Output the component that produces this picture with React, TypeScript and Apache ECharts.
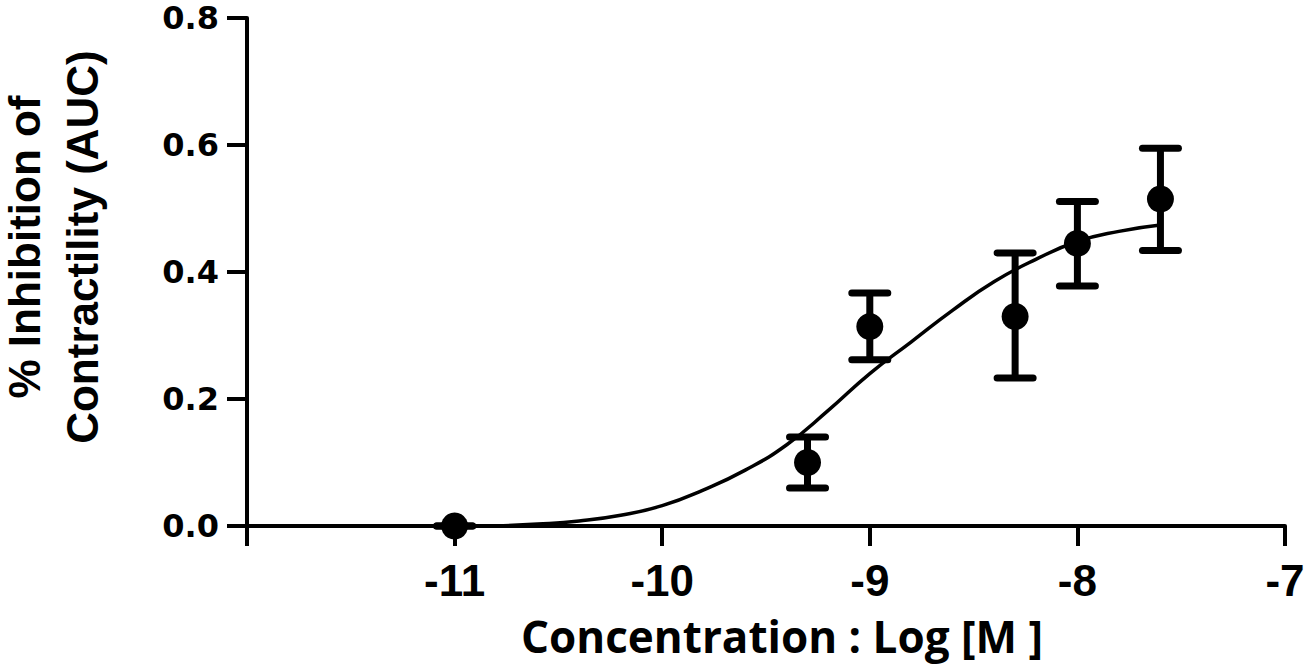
import React, { useEffect, useRef } from "react";
import * as echarts from "echarts";

// Observed points: log concentration, mean, SEM bounds
const logConc = [-11, -9.3, -9.0, -8.3, -8.0, -7.6];
const meanInhibition = [0.0, 0.1, 0.314, 0.33, 0.445, 0.515];
const errLow = [0.0, 0.06, 0.262, 0.233, 0.378, 0.434];
const errHigh = [0.0, 0.14, 0.367, 0.43, 0.511, 0.595];

// Fitted curve
const curveX = [-10.8, -10.6, -10.4, -10.2, -10.0, -9.8, -9.6, -9.4, -9.2, -9.0, -8.8, -8.6, -8.4, -8.2, -8.0, -7.8, -7.6];
const curveY = [0.0, 0.003, 0.008, 0.017, 0.032, 0.057, 0.088, 0.128, 0.182, 0.24, 0.29, 0.34, 0.385, 0.42, 0.448, 0.464, 0.474];

const yTicks = [0, 0.2, 0.4, 0.6, 0.8];
const xTickLabels = ["-11", "-10", "-9", "-8", "-7"];

const yTitleLines = ["% Inhibition of", "Contractility (AUC)"];
const xTitle = "Concentration : Log [M ]";

export default function App() {
  const ref = useRef<HTMLDivElement>(null);

  useEffect(() => {
    document.body.style.margin = "0";
    if (!ref.current) return;
    const chart = echarts.init(ref.current, null, { renderer: "svg" });

    const points = logConc.map((x, i) => [x, meanInhibition[i]]);
    const errs = logConc.map((x, i) => [x, errLow[i], errHigh[i]]);
    const curve = curveX.map((x, i) => [x, curveY[i]]);

    const titleFont = "bold 44px 'Liberation Sans', Arial, sans-serif";

    chart.setOption({
      animation: false,
      backgroundColor: "#fff",
      grid: {
        left: 247,
        right: 19,
        top: 18,
        bottom: 140,
        containLabel: false,
        outerBoundsMode: "none",
      },
      xAxis: {
        type: "value",
        min: -12,
        max: -7,
        interval: 1,
        axisLine: { show: true, onZero: false, lineStyle: { color: "#000", width: 4 } },
        axisTick: { show: true, length: 20, lineStyle: { color: "#000", width: 4 } },
        splitLine: { show: false },
        axisLabel: {
          color: "#000",
          fontFamily: "Liberation Sans",
          fontWeight: "bold",
          fontSize: 44,
          lineHeight: 44,
          margin: 32,
          showMinLabel: true,
          showMaxLabel: true,
          hideOverlap: false,
          formatter: (v: number) => {
            const s = String(Math.round(v));
            return xTickLabels.includes(s) ? s : "";
          },
        },
      },
      yAxis: {
        type: "value",
        min: 0,
        max: 0.8,
        interval: 0.2,
        axisLine: { show: true, onZero: false, lineStyle: { color: "#000", width: 4 } },
        axisTick: { show: true, length: 20, lineStyle: { color: "#000", width: 4 } },
        splitLine: { show: false },
        axisLabel: {
          color: "#000",
          fontFamily: "DejaVu Sans",
          fontWeight: "bold",
          fontSize: 32,
          lineHeight: 26,
          margin: 28,
          showMinLabel: true,
          showMaxLabel: true,
          formatter: (v: number) => {
            const t = yTicks.find((k) => Math.abs(k - v) < 1e-9);
            return t === undefined ? "" : t.toFixed(1);
          },
        },
      },
      graphic: [
        {
          type: "text",
          x: 24,
          y: 247,
          rotation: Math.PI / 2,
          style: {
            text: yTitleLines[0],
            fill: "#000",
            font: titleFont,
            lineHeight: 40,
            align: "center",
            verticalAlign: "middle",
          },
        },
        {
          type: "text",
          x: 82,
          y: 247,
          rotation: Math.PI / 2,
          style: {
            text: yTitleLines[1],
            fill: "#000",
            font: titleFont,
            lineHeight: 40,
            align: "center",
            verticalAlign: "middle",
          },
        },
        {
          type: "text",
          x: 782,
          y: 636,
          style: {
            text: xTitle,
            fill: "#000",
            font: "bold 44px 'Open Sans', sans-serif",
            lineHeight: 40,
            align: "center",
            verticalAlign: "middle",
          },
        },
      ],
      series: [
        {
          type: "line",
          data: curve,
          smooth: 0.5,
          showSymbol: false,
          symbol: "none",
          lineStyle: { color: "#000", width: 3.5 },
          z: 2,
        },
        {
          type: "custom",
          data: errs,
          z: 3,
          renderItem: (params: any, api: any) => {
            const x = api.value(0);
            const lo = api.coord([x, api.value(1)]);
            const hi = api.coord([x, api.value(2)]);
            const hw = 18;
            const style = { stroke: "#000", lineWidth: 7 };
            return {
              type: "group",
              children: [
                { type: "line", shape: { x1: lo[0], y1: lo[1], x2: hi[0], y2: hi[1] }, style },
                { type: "line", shape: { x1: hi[0] - hw, y1: hi[1], x2: hi[0] + hw, y2: hi[1] }, style: { ...style, lineCap: "round" } },
                { type: "line", shape: { x1: lo[0] - hw, y1: lo[1], x2: lo[0] + hw, y2: lo[1] }, style: { ...style, lineCap: "round" } },
              ],
            };
          },
        },
        {
          type: "scatter",
          data: points,
          symbol: "circle",
          symbolSize: 27,
          itemStyle: { color: "#000", opacity: 1 },
          z: 4,
        },
      ],
    });

    return () => chart.dispose();
  }, []);

  return <div ref={ref} style={{ width: 1304, height: 666 }} />;
}
